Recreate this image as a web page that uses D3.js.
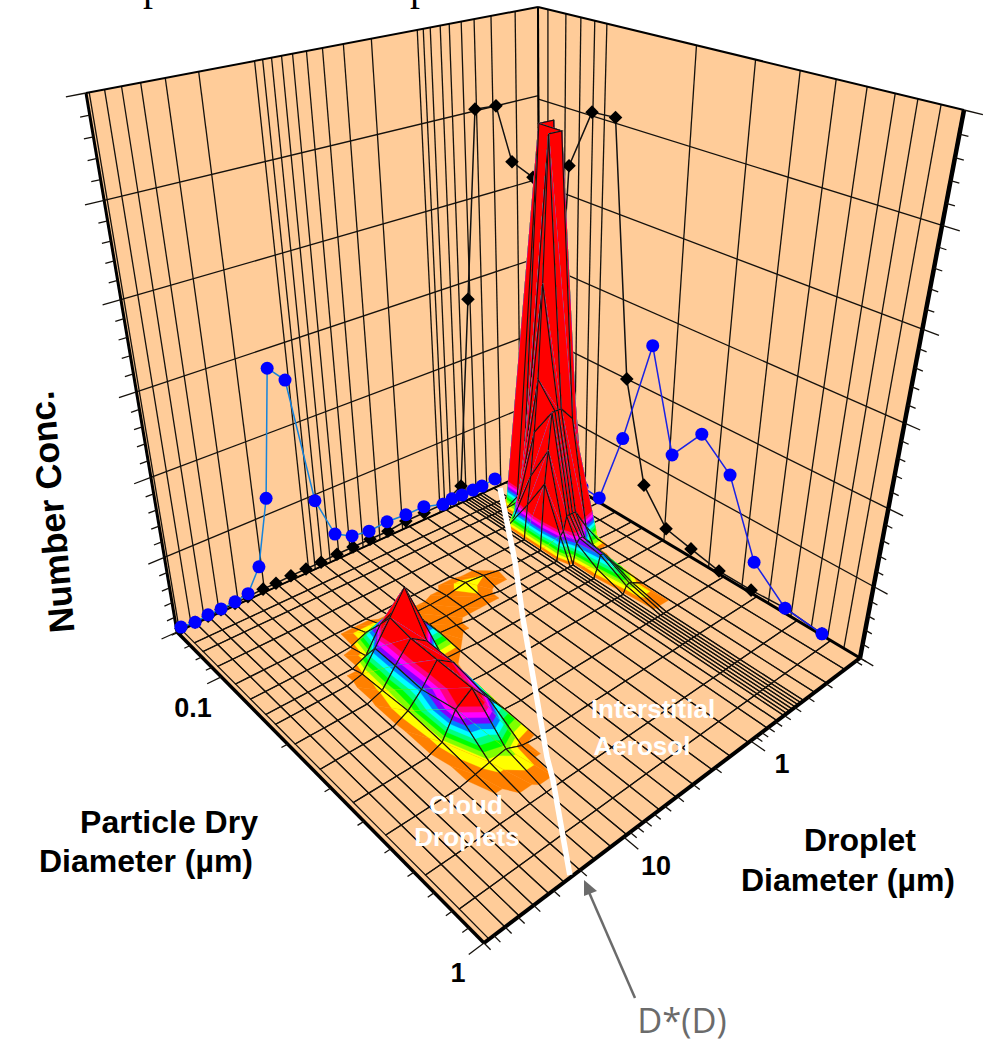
<!DOCTYPE html>
<html><head><meta charset="utf-8"><script src="https://cdn.jsdelivr.net/npm/d3@7"></script></head>
<body style="margin:0;background:#fff">
<svg width="985" height="1042" style="display:block"></svg>
<script>
// wall mesh bins (um)
var wallDroplet=[77,64,52,41,30,19.4,9.06,8.09,7.13,6.18,5.27,4.3,3.39,2.47,1.6,.762,.69,.614,.519,.445,.362,.289,.214,.138,.09];
var wallParticle=[.0596,.065,.0758,.0859,.0962,.106,.2065,.307,.406,.503,.6,.7,.79,.891,.995];
// floor mesh bins (um)
var floorDroplet=[74.6,60,49,40,32,25.5,20,16,12.3,9.5,7.25,5.45,4.06,3,2.1,1.49,1.04,.71,.58,.503,.473,.445,.419,.394,.371,.349,.328,.258,.196,.129,.09];
var floorParticle=[.0596,.0696,.077,.0913,.111,.1305,.153,.169,.205,.26,.35,.46,.63,.81,1];
// number conc. on the floor mesh, one row per floorParticle, one column per floorDroplet
var surface=[
[0,0,0,0,0,0,0,0,0,0,0,0,0,0,0,0,0,0,0,0,0,0,0,0,0,0,0,0,0,0,0],
[0,0,0,0,0,0,0,0,0,0,0,0,0,0,0,0,0,0,0,0,0,0,0,0,0,0,0,0,0,0,0],
[0,0,0,0,0,0,0,0,0,0,0,0,0,0,0,0,0,0,0,0,0,0,0,0,0,0,0,.1,.1,0,0],
[0,0,0,0,0,0,0,0,0,0,0,0,0,0,0,0,0,0,0,0,0,0,0,0,0,0,.3,5.1,5.1,0,0],
[0,0,0,0,0,0,0,0,0,0,0,0,0,0,0,0,0,0,0,0,0,.5,.9,1.5,2.2,3.4,5.1,5.1,.01,0,0],
[0,0,0,0,0,0,0,.01,.1,.1,.05,.03,.03,.04,.09,.06,.01,0,0,0,0,.95,1.4,1.9,1.9,1.9,1.9,1.7,.02,0,0],
[0,0,0,0,0,0,0,.08,.4,.5,.25,.05,.05,.05,.05,0,0,0,0,0,0,.35,.4,.6,.6,.6,.6,.3,.01,0,0],
[0,0,0,0,0,0,.05,.3,.6,.9,.35,.05,.03,0,0,0,0,0,0,0,0,0,0,.3,.35,.35,.3,.03,0,0,0],
[0,0,0,0,0,0,.07,.3,.55,.4,.03,.02,0,0,0,0,0,0,0,0,0,0,0,.12,.3,.3,.25,.02,0,0,0],
[0,0,0,0,0,0,.1,.28,.55,.4,.02,0,0,0,0,0,0,0,0,0,0,0,0,0,.1,.12,.1,0,0,0,0],
[0,0,0,0,0,0,.08,.4,.55,.3,.02,0,0,0,0,0,0,0,0,0,0,0,0,0,0,0,0,0,0,0,0],
[0,0,0,0,0,0,.04,.08,.12,.03,0,0,0,0,0,0,0,0,0,0,0,0,0,0,0,0,0,0,0,0,0],
[0,0,0,0,0,0,0,0,0,0,0,0,0,0,0,0,0,0,0,0,0,0,0,0,0,0,0,0,0,0,0],
[0,0,0,0,0,0,0,0,0,0,0,0,0,0,0,0,0,0,0,0,0,0,0,0,0,0,0,0,0,0,0],
[0,0,0,0,0,0,0,0,0,0,0,0,0,0,0,0,0,0,0,0,0,0,0,0,0,0,0,0,0,0,0]
];
var levels=[.02,.06,.1,.14,.18,.22,.26,.3,.34,.38,.42];
var bandColors=["#ff8000","#ffff00","#80ff00","#00ff00","#00ff80","#00ffff","#0080ff","#8000ff","#ff00ff","#ff0080","#ff0000"];
// droplet spectrum profiles on the left wall
var leftD=[74.6,60.1,48.8,39.6,31.5,25.3,20.2,15.8,12.3,9.56,7.24,5.45,4.06,2.98,2.12,1.48,1.04,.714,.594,.484,.385,.319,.242];
var leftBlue=[.04,.02,.04,.04,.05,.08,.37,1.21,2.77,2.56,.92,.36,.23,.19,.21,.19,.19,.10,.12,.11,.11,.11,.13];
var leftBlackD=[75,60.1,48.9,39.7,31.6,25.5,19.8,15.9,12.3,9.46,7.25,5.44,4.06,2.96,2.11,1.49,1.04,.714,.49,.376,.297,.202,.152,.101];
var leftBlack=[.02,.02,.02,.03,.03,.04,.05,.05,.06,.06,.06,.07,.07,.07,.07,.1,.1,.1,.25,2.77,5.02,5,4.3,4.04];
// dry size profiles on the right wall
var rightBlueD=[.0931,.111,.136,.17,.211,.265,.339,.436,.571,.758];
var rightBlue=[.08,.07,1.15,2.59,1.29,1.77,1.43,.45,.07,.02];
var rightBlackD=[.0665,.0788,.0955,.116,.138,.168,.209,.262,.335,.437,.571,.758];
var rightBlack=[.02,4.35,5.04,5.06,2,.65,.2,.12,.04,.04,.07,.02];
// D*(D) curve on the floor
var dStarD=[.237,.78,1.74,8.34,10.2,22.8];
var dStarP=[.0613,.129,.205,.528,.607,.988];

var L=[177,632],F=[484,943],R=[860,658],B=[540,467],Lt=[86,93],Bt=[538,7],Rt=[964,110];
var vanish=[505,2555],lift=-.222;

function quadH(p00,p10,p11,p01){
  var sx=p00[0]-p10[0]+p11[0]-p01[0], sy=p00[1]-p10[1]+p11[1]-p01[1];
  var dx1=p10[0]-p11[0],dx2=p01[0]-p11[0],dy1=p10[1]-p11[1],dy2=p01[1]-p11[1];
  var den=dx1*dy2-dx2*dy1, g=(sx*dy2-dx2*sy)/den, h=(dx1*sy-sx*dy1)/den;
  return [[p10[0]*(1+g)-p00[0],p01[0]*(1+h)-p00[0],p00[0]],[p10[1]*(1+g)-p00[1],p01[1]*(1+h)-p00[1],p00[1]],[g,h,1]];
}
function mapper(m){ return function(a,b){
  var w=m[2][0]*a+m[2][1]*b+m[2][2];
  return [(m[0][0]*a+m[0][1]*b+m[0][2])/w,(m[1][0]*a+m[1][1]*b+m[1][2])/w];
};}
var HF=quadH(L,B,R,F);
var leftWall=mapper(quadH(L,B,Bt,Lt)),rightWall=mapper(quadH(B,R,Rt,Bt)),floorAt=mapper(HF);

var dropS=d3.scaleLog().domain([80,.09]).range([0,1]);
var partR=d3.scaleLog().domain([.0596,1]).range([0,1]);
var conc=d3.scaleLinear().domain([0,6]).range([0,1]);

// a point of the surface: the floor homography lifted toward the vertical vanishing point
function surf(s,r,z){
  var k=lift*conc(z);
  var X=HF[0][0]*s+HF[0][1]*r+HF[0][2],Y=HF[1][0]*s+HF[1][1]*r+HF[1][2],W=HF[2][0]*s+HF[2][1]*r+HF[2][2];
  return [(X+k*vanish[0])/(W+k),(Y+k*vanish[1])/(W+k)];
}

var svg=d3.select("svg");
var seg=d3.line();
var ring=d3.line().curve(d3.curveLinearClosed);
var wallFill="#ffcc99",ink="#15110c";

// clipped off text at the very top of the source picture
svg.selectAll("text.cut").data([143,410]).enter().append("text").attr("class","cut")
  .attr("x",function(d){return d;}).attr("y",0).attr("font-family","Liberation Serif").attr("font-size",40).text("p");

svg.append("path").attr("d",ring([L,B,Bt,Lt])).attr("fill",wallFill);
svg.append("path").attr("d",ring([B,R,Rt,Bt])).attr("fill",wallFill);

// wall mesh
var wallG=svg.append("g").attr("stroke",ink).attr("stroke-width",1.3).attr("fill","none");
wallDroplet.forEach(function(d){wallG.append("path").attr("d",seg([leftWall(dropS(d),0),leftWall(dropS(d),1)]));});
wallParticle.forEach(function(d){wallG.append("path").attr("d",seg([rightWall(partR(d),0),rightWall(partR(d),1)]));});
conc.ticks(6).slice(1,-1).forEach(function(z){
  wallG.append("path").attr("d",seg([leftWall(0,conc(z)),leftWall(1,conc(z))]));
  wallG.append("path").attr("d",seg([rightWall(0,conc(z)),rightWall(1,conc(z))]));
});

// conc. ticks, five per major step
var tickG=svg.append("g").attr("stroke",ink).attr("stroke-width",1.3).attr("fill","none");
d3.range(0,6.01,.2).forEach(function(z){
  var major=Math.abs(z-Math.round(z))<.01;
  tickG.append("path").attr("d",seg([leftWall(0,conc(z)),leftWall(major?-.035:-.017,conc(z))]));
  tickG.append("path").attr("d",seg([rightWall(1,conc(z)),rightWall(major?1.033:1.016,conc(z))]));
});

svg.append("path").attr("d",ring([L,B,R,F])).attr("fill",wallFill);

// floor mesh nodes in scale space
var sv=floorDroplet.map(dropS),rv=floorParticle.map(partR);
var cells=[];
for(var i=sv.length-2;i>=0;i--){
  for(var j=0;j<rv.length-1;j++){
    cells.push([[sv[i],rv[j],surface[j][i]],[sv[i+1],rv[j],surface[j][i+1]],[sv[i+1],rv[j+1],surface[j+1][i+1]],[sv[i],rv[j+1],surface[j+1][i]]]);
  }
}
function isFlat(c){return c.every(function(p){return p[2]===0;});}
function toPath(c){return ring(c.map(function(p){return surf(p[0],p[1],p[2]);}));}

var flatG=svg.append("g").attr("fill","none").attr("stroke",ink).attr("stroke-width",1.2);
cells.filter(isFlat).forEach(function(c){flatG.append("path").attr("d",toPath(c));});

// floor rim and edges
var rimG=svg.append("g").attr("fill","none").attr("stroke","#000");
rimG.append("path").attr("d",seg([L,B])).attr("stroke-width",2);
rimG.append("path").attr("d",seg([B,R])).attr("stroke-width",3);
rimG.append("path").attr("d",seg([L,F])).attr("stroke-width",3.5);
rimG.append("path").attr("d",seg([F,R])).attr("stroke-width",4);
rimG.append("path").attr("d",seg([L,Lt])).attr("stroke-width",3);
rimG.append("path").attr("d",seg([Lt,Bt])).attr("stroke-width",2);
rimG.append("path").attr("d",seg([Bt,Rt])).attr("stroke-width",2);
rimG.append("path").attr("d",seg([Rt,R])).attr("stroke-width",4.5);
rimG.append("path").attr("d",seg([B,Bt])).attr("stroke-width",2);

// log ticks under the floor edges
dropS.ticks().forEach(function(d){
  var major=Math.abs(Math.log10(d)-Math.round(Math.log10(d)))<.001&&d>.5;
  if(dropS(d)<0||dropS(d)>1)return;
  tickG.append("path").attr("d",seg([floorAt(dropS(d),1),floorAt(dropS(d),major?1.035:1.016)]));
});
partR.ticks().forEach(function(d){
  var major=Math.abs(Math.log10(d)-Math.round(Math.log10(d)))<.001;
  if(partR(d)<0||partR(d)>1)return;
  tickG.append("path").attr("d",seg([floorAt(0,partR(d)),floorAt(major?-.03:-.013,partR(d))]));
});
tickG.raise();

// wall profiles
function profile(fn,xs,ys,color,draw){
  var pts=xs.map(function(x,k){return fn(x,conc(ys[k]));});
  svg.append("path").attr("d",seg(pts)).attr("fill","none").attr("stroke",color).attr("stroke-width",1.5);
  pts.forEach(draw);
}
function diamond(p){
  svg.append("path").attr("d",d3.symbol(d3.symbolSquare,92)()).attr("fill","#000")
    .attr("transform","translate("+p[0]+","+p[1]+") rotate(45)");
}
function dot(p){
  svg.append("circle").attr("cx",p[0]).attr("cy",p[1]).attr("r",6.5).attr("fill","#0000ff");
}
function onLeft(d,z){return leftWall(dropS(d),z);}
function onRight(d,z){return rightWall(partR(d),z);}
profile(onLeft,leftBlackD,leftBlack,"#111",diamond);
profile(onRight,rightBlackD,rightBlack,"#111",diamond);
profile(onRight,rightBlueD,rightBlue,"#1a22e6",dot);
profile(onLeft,leftD,leftBlue,"#1583dc",dot);

// clip a polygon to z >= lvl
function clipAbove(poly,lvl){
  var out=[];
  poly.forEach(function(p,k){
    var q=poly[(k+1)%poly.length];
    if(p[2]>=lvl)out.push(p);
    if((p[2]>=lvl)!==(q[2]>=lvl)){
      var t=(lvl-p[2])/(q[2]-p[2]);
      out.push([p[0]+t*(q[0]-p[0]),p[1]+t*(q[1]-p[1]),lvl]);
    }
  });
  return out;
}

// raised cells back to front, painted band by band, mesh outline last
var surfG=svg.append("g");
cells.filter(function(c){return !isFlat(c);}).forEach(function(c){
  [[c[0],c[1],c[2]],[c[0],c[2],c[3]]].forEach(function(tri){
    levels.forEach(function(lvl,k){
      var part=clipAbove(tri,lvl);
      if(part.length>2)surfG.append("path").attr("d",toPath(part)).attr("fill",bandColors[k]).attr("stroke",bandColors[k]).attr("stroke-width",.3);
    });
  });
  surfG.append("path").attr("d",toPath(c)).attr("fill","none").attr("stroke",ink).attr("stroke-width",1.1);
});

// D*(D)
svg.append("path").attr("d",seg(dStarD.map(function(d,k){return floorAt(dropS(d),partR(dStarP[k]));})))
  .attr("fill","none").attr("stroke","#fff").attr("stroke-width",5.5);

// labels
function label(t,x,y,size,fill,weight,fam){
  return svg.append("text").attr("x",x).attr("y",y).attr("text-anchor","middle")
    .attr("font-family",fam||"Liberation Sans").attr("font-weight",weight||"bold").attr("font-size",size).attr("fill",fill||"#000").text(t);
}
label("Number Conc.",0,0,35.5).attr("transform","translate(64,511) rotate(-95)");
label("Particle Dry",169,833,32);
label("Diameter (µm)",146,872,32);
label("Droplet",860,851,32);
label("Diameter (µm)",848,891,32);
label("0.1",193,717,27);
label("1",782,773,27);
label("10",656,875,27);
label("1",458,982,27);
label("Interstitial",653,718,26,"#fff");
label("Aerosol",642,755,26,"#fff");
label("Cloud",466,814,26,"#fff");
label("Droplets",467,846,26,"#fff");
label("D*(D)",682,1033,34.5,"#6b6b6b","normal","Open Sans");

svg.append("path").attr("d",seg([[635,998],[588,890]])).attr("stroke","#6b6b6b").attr("stroke-width",2.5).attr("fill","none");
svg.append("path").attr("d",ring([[584,880],[597,891],[584,896]])).attr("fill","#6b6b6b");
</script></body></html>
